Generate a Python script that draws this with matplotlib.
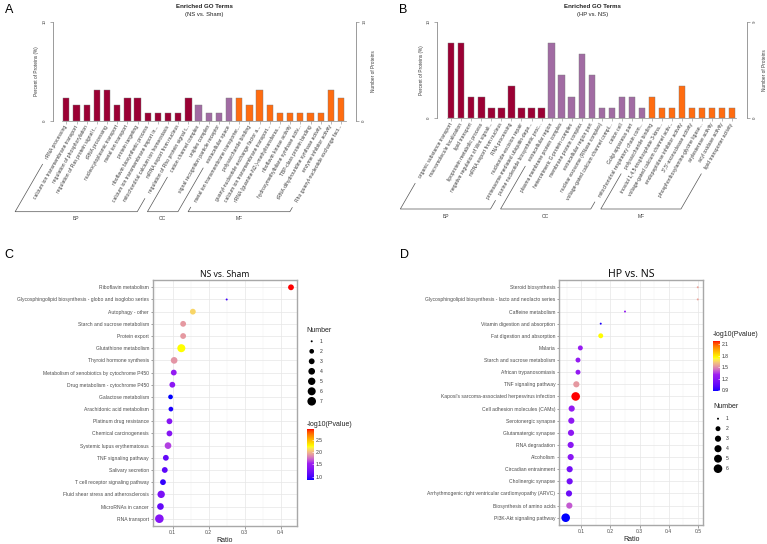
import numpy as np
import matplotlib
matplotlib.use("Agg")
import matplotlib.pyplot as plt
from matplotlib.colors import ListedColormap, Normalize
from matplotlib.cm import ScalarMappable

W, H = 767, 544
plt.rcParams['font.family'] = ['Liberation Sans', 'DejaVu Sans']

# ---------------- Panel A data ----------------
a_bp_terms = ["rRNA processing", "calcium ion transmembrane transport", "regulation of phosphorylation",
              "regulation of Ras protein signal t...", "tRNA processing", "nucleocytoplasmic transport",
              "metal ion transport", "protein targeting", "riboflavin biosynthetic process",
              "calcium ion transmembrane import in...", "mitochondrial calcium ion homeostasis",
              "mRNA export from nucleus", "regulation of Rho protein signal t..."]
a_bp_counts = [3, 2, 2, 4, 4, 2, 3, 3, 1, 1, 1, 1, 3]
a_cc_terms = ["cation channel complex", "uniplex complex", "signal recognition particle receptor",
              "extracellular space"]
a_cc_counts = [2, 1, 1, 3]
a_mf_terms = ["metal ion transmembrane transporter...", "polysaccharide binding",
              "guanyl-nucleotide exchange factor a...", "calcium ion transmembrane transport...",
              "rRNA (guanine-N2-)-methyltransferas...", "riboflavin kinase activity",
              "hydroxymethylbilane synthase activ...", "TBP-class protein binding",
              "tRNA dihydrouridine synthase activity", "enzyme inhibitor activity",
              "Rho guanyl-nucleotide exchange fact..."]
a_mf_counts = [3, 2, 4, 2, 1, 1, 1, 1, 1, 4, 3]
a_total = 130
a_right_max = 13

# ---------------- Panel B data ----------------
b_bp_terms = ["organic substance transport", "macromolecule localization", "lipid transport",
              "lipoprotein metabolic process", "negative regulation of Wnt signali...",
              "mRNA export from nucleus", "RNA processing", "nucleotide-excision repair",
              "proteasome-mediated ubiquitin-depe...", "purine nucleotide biosynthetic proc..."]
b_bp_counts = [7, 7, 2, 2, 1, 1, 3, 1, 1, 1]
b_cc_terms = ["extracellular region", "plasma membrane protein complex", "heterotrimeric G-protein complex",
              "membrane protein complex", "extracellular region part", "nuclear exosome (RNase complex)",
              "voltage-gated calcium channel compl...", "cation cell", "Golgi apparatus part",
              "mitochondrial respiratory chain com..."]
b_cc_counts = [7, 4, 2, 6, 4, 1, 1, 2, 2, 1]
b_mf_terms = ["polysaccharide binding", "inositol 1,4,5-trisphosphate 3-kina...",
              "voltage-gated calcium channel activ...", "endopeptidase inhibitor activity",
              "3',5'-exonuclease activity", "phosphoribosylamine-glycine ligase...",
              "arylesterase activity", "acyl oxidase activity", "lipid transporter activity"]
b_mf_counts = [2, 1, 1, 3, 1, 1, 1, 1, 1]
b_total = 90
b_right_max = 9

group_names = ["BP", "CC", "MF"]
group_colors = ["#9B0034", "#A16BA3", "#FF6C10"]

# ---------------- Panel C data ----------------
c_terms = ["Riboflavin metabolism", "Glycosphingolipid biosynthesis - globo and isoglobo series",
           "Autophagy - other", "Starch and sucrose metabolism", "Protein export",
           "Glutathione metabolism", "Thyroid hormone synthesis",
           "Metabolism of xenobiotics by cytochrome P450", "Drug metabolism - cytochrome P450",
           "Galactose metabolism", "Arachidonic acid metabolism", "Platinum drug resistance",
           "Chemical carcinogenesis", "Systemic lupus erythematosus", "TNF signaling pathway",
           "Salivary secretion", "T cell receptor signaling pathway",
           "Fluid shear stress and atherosclerosis", "MicroRNAs in cancer", "RNA transport"]
c_ratio = [0.4286, 0.25, 0.156, 0.129, 0.129, 0.124, 0.104, 0.103, 0.099, 0.094,
           0.095, 0.091, 0.091, 0.087, 0.081, 0.078, 0.073, 0.068, 0.066, 0.063]
c_number = [3, 1, 3, 3, 3, 6, 4, 3, 3, 2, 2, 3, 3, 4, 3, 3, 3, 5, 4, 7]
c_logp = [2.93, 0.98, 2.1, 1.9, 1.9, 2.24, 1.88, 1.45, 1.4, 0.87,
          0.9, 1.36, 1.36, 1.62, 1.14, 1.1, 0.95, 1.28, 1.14, 1.35]
c_number_levels = [1, 2, 3, 4, 5, 6, 7]
c_cbar_ticks = [1.0, 1.5, 2.0, 2.5]
c_xticks = [0.1, 0.2, 0.3, 0.4]

# ---------------- Panel D data ----------------
d_terms = ["Steroid biosynthesis", "Glycosphingolipid biosynthesis - lacto and neolacto series",
           "Caffeine metabolism", "Vitamin digestion and absorption", "Fat digestion and absorption",
           "Malaria", "Starch and sucrose metabolism", "African trypanosomiasis", "TNF signaling pathway",
           "Kaposi's sarcoma-associated herpesvirus infection", "Cell adhesion molecules (CAMs)",
           "Serotonergic synapse", "Glutamatergic synapse", "RNA degradation", "Alcoholism",
           "Circadian entrainment", "Cholinergic synapse",
           "Arrhythmogenic right ventricular cardiomyopathy (ARVC)", "Biosynthesis of amino acids",
           "PI3K-Akt signaling pathway"]
d_ratio = [0.5, 0.5, 0.25, 0.1667, 0.1667, 0.0967, 0.0886, 0.0886, 0.0829, 0.0806,
           0.0669, 0.0657, 0.0646, 0.0635, 0.0635, 0.060, 0.060, 0.0577, 0.0589, 0.0463]
d_number = [1, 1, 1, 1, 2, 2, 2, 2, 3, 6, 3, 3, 3, 3, 3, 3, 3, 3, 3, 6]
d_logp = [1.55, 1.55, 1.25, 0.9, 1.75, 1.27, 1.25, 1.25, 1.53, 2.18,
          1.25, 1.23, 1.22, 1.2, 1.2, 1.11, 1.11, 1.08, 1.4, 0.88]
d_number_levels = [1, 2, 3, 4, 5, 6]
d_cbar_ticks = [0.9, 1.2, 1.5, 1.8, 2.1]
d_xticks = [0.1, 0.2, 0.3, 0.4, 0.5]


# ---------------- colour map: blue-purple-yellow-red interpolated in Lab ----------------
def _srgb2lin(c):
    return np.where(c <= 0.04045, c / 12.92, ((c + 0.055) / 1.055) ** 2.4)


def _lin2srgb(c):
    c = np.clip(c, 0, 1)
    return np.where(c <= 0.0031308, 12.92 * c, 1.055 * c ** (1 / 2.4) - 0.055)


_M = np.array([[0.4124, 0.3576, 0.1805], [0.2126, 0.7152, 0.0722], [0.0193, 0.1192, 0.9505]])
_WP = np.array([0.95047, 1.0, 1.08883])


def rgb2lab(rgb):
    xyz = _M @ _srgb2lin(np.asarray(rgb, float)) / _WP
    f = np.where(xyz > 0.008856, np.cbrt(xyz), 7.787 * xyz + 16 / 116)
    return np.array([116 * f[1] - 16, 500 * (f[0] - f[1]), 200 * (f[1] - f[2])])


def lab2rgb(lab):
    fy = (lab[0] + 16) / 116
    fx = fy + lab[1] / 500
    fz = fy - lab[2] / 200
    f = np.array([fx, fy, fz])
    xyz = np.where(f ** 3 > 0.008856, f ** 3, (f - 16 / 116) / 7.787) * _WP
    return _lin2srgb(np.linalg.inv(_M) @ xyz)


stops = [(0, 0, 1), (160 / 255, 32 / 255, 240 / 255), (1, 1, 0), (1, 0, 0)]
labs = [rgb2lab(s) for s in stops]
cols = []
for t in np.linspace(0, 1, 256):
    seg = min(int(t * 3), 2)
    u = t * 3 - seg
    cols.append(lab2rgb(labs[seg] * (1 - u) + labs[seg + 1] * u))
cmap = ListedColormap(np.clip(np.array(cols), 0, 1))


def R(x0, y0, x1, y1):
    return [x0 / W, 1 - y1 / H, (x1 - x0) / W, (y1 - y0) / H]


fig = plt.figure(figsize=(W / 100, H / 100), dpi=100)
fig.patch.set_facecolor("white")

GRAY = "#8A8A8A"
TXT = "#3A3A3A"
LAB_FS = 3.6


def bar_panel(rect, groups, total, right_max, xlim):
    ax = fig.add_axes(rect)
    terms, counts, colors, sizes = [], [], [], []
    for (t, c), col in zip(groups, group_colors):
        terms += t
        counts += c
        colors += [col] * len(t)
        sizes.append(len(t))
    x = np.arange(len(terms))
    pct = np.array(counts) / total * 100
    ax.bar(x, pct, width=0.62, color=colors, edgecolor="#7A7A7A", linewidth=0.3, zorder=3)
    ax.set_xlim(*xlim)
    ax.set_ylim(0, 10)
    for s in ["top", "right"]:
        ax.spines[s].set_visible(False)
    ax.spines["left"].set_color(GRAY)
    ax.spines["left"].set_linewidth(0.6)
    ax.spines["bottom"].set_color(GRAY)
    ax.spines["bottom"].set_linewidth(0.5)
    ax.spines["bottom"].set_bounds(-0.45, len(terms) - 0.55)
    ax.set_yticks([0, 10])
    ax.set_yticklabels(["0", "10"], rotation=90, va="center", fontsize=3.2, color=TXT)
    ax.tick_params(axis="y", length=2.5, width=0.5, color=GRAY, pad=2)
    ax.set_xticks(x)
    ax.set_xticklabels(terms, rotation=60, ha="right", va="center", rotation_mode="anchor",
                       fontsize=LAB_FS, color=TXT)
    ax.tick_params(axis="x", length=2, width=0.4, color=GRAY, pad=1.5)
    ax.set_ylabel("Percent of Proteins (%)", fontsize=3.4, color=TXT, labelpad=2.5)
    ax2 = ax.twinx()
    ax2.set_ylim(0, right_max)
    for s in ["top", "left", "bottom"]:
        ax2.spines[s].set_visible(False)
    ax2.spines["right"].set_color(GRAY)
    ax2.spines["right"].set_linewidth(0.6)
    ax2.set_yticks([0, right_max])
    ax2.set_yticklabels(["0", str(right_max)], rotation=90, va="center", fontsize=3.2, color=TXT)
    ax2.tick_params(axis="y", length=2.5, width=0.5, color=GRAY, pad=2)
    ax2.set_ylabel("Number of Proteins", fontsize=3.4, color=TXT, labelpad=3.5)
    return ax, sizes


axA, a_sizes = bar_panel(R(53, 21.7, 356, 120.7),
                         [(a_bp_terms, a_bp_counts), (a_cc_terms, a_cc_counts), (a_mf_terms, a_mf_counts)],
                         a_total, a_right_max, (-1.31, 28.47))
axB, b_sizes = bar_panel(R(437.3, 21.7, 746.7, 118.3),
                         [(b_bp_terms, b_bp_counts), (b_cc_terms, b_cc_counts), (b_mf_terms, b_mf_counts)],
                         b_total, b_right_max, (-1.40, 29.47))


def sizes_px(nums, nmax, dmax=8.6):
    nums = np.asarray(nums, float)
    s = 1 + 5 * np.sqrt((nums - 1) / (nmax - 1))
    d = dmax * (s + 0.5) / 6.5
    return (d * 0.72) ** 2


def bubble(rect, terms, ratio, number, logp, xlim, xticks, nmax):
    ax = fig.add_axes(rect)
    n = len(terms)
    y = np.arange(n)[::-1]
    ax.set_xlim(*xlim)
    ax.set_ylim(-0.6, n - 0.4)
    ax.set_xticks(xticks)
    ax.set_xticks([t + 0.05 for t in xticks[:-1]] + [xticks[0] - 0.05], minor=True)
    ax.set_xticklabels([f"{t:.1f}" for t in xticks], fontsize=LAB_FS, color="#4D4D4D")
    ax.set_yticks(y)
    ax.set_yticklabels(terms, fontsize=LAB_FS, color="#4D4D4D")
    ax.grid(which="major", color="#E6E6E6", lw=0.5)
    ax.grid(which="minor", axis="x", color="#F1F1F1", lw=0.35)
    ax.set_axisbelow(True)
    ax.tick_params(which="major", length=1.8, width=0.4, color="#555555", pad=1)
    ax.tick_params(which="minor", length=0)
    for s in ax.spines.values():
        s.set_color("#A8A8A8")
        s.set_linewidth(1.0)
    norm = Normalize(min(logp), max(logp))
    ax.scatter(ratio, y, s=sizes_px(number, nmax), c=logp, cmap=cmap, norm=norm,
               linewidths=0, zorder=3)
    ax.set_xlabel("Ratio", fontsize=5, color="#222222", labelpad=1.5)
    return ax, norm


axC, normC = bubble(R(153, 280, 297, 526), c_terms, c_ratio, c_number, c_logp,
                    (0.0453, 0.4453), c_xticks, max(c_number_levels))
axC.set_title("NS vs. Sham", fontsize=6.2, color="#111111", pad=2.5, family=["Noto Sans", "DejaVu Sans"])
axD, normD = bubble(R(559.3, 280, 703.3, 525), d_terms, d_ratio, d_number, d_logp,
                    (0.0244, 0.519), d_xticks, max(d_number_levels))
axD.set_title("HP vs. NS", fontsize=7.6, color="#111111", pad=2.5, family=["Noto Sans", "DejaVu Sans"])


def cbar(rect, norm, ticks):
    cax = fig.add_axes(rect)
    cb = fig.colorbar(ScalarMappable(norm=norm, cmap=cmap), cax=cax)
    cb.outline.set_visible(False)
    cb.set_ticks(ticks)
    cb.set_ticklabels([f"{t:.1f}" for t in ticks])
    cax.tick_params(length=1.5, width=0.4, color="white", labelsize=LAB_FS, labelcolor="#333333",
                    pad=1.5, direction="in")
    return cax


cbar(R(306.7, 429.3, 313.5, 480), normC, c_cbar_ticks)
cbar(R(713, 341, 719.8, 391), normD, d_cbar_ticks)

# ---------------- overlay for annotations ----------------
ov = fig.add_axes([0, 0, 1, 1])
ov.set_xlim(0, W)
ov.set_ylim(H, 0)
ov.axis("off")
ov.patch.set_alpha(0)


def size_legend(x0, ytitle, y1, levels, nmax):
    ov.text(x0, ytitle, "Number", fontsize=5, color="#222222", ha="left", va="center")
    ys = y1 + 10 * np.arange(len(levels))
    ov.scatter([x0 + 5] * len(levels), ys, s=sizes_px(levels, nmax), c="black", linewidths=0)
    for lv, yy in zip(levels, ys):
        ov.text(x0 + 13, yy, str(lv), fontsize=LAB_FS, color="#333333", ha="left", va="center")


size_legend(306.7, 330, 341.3, c_number_levels, max(c_number_levels))
size_legend(713, 407, 418.7, d_number_levels, max(d_number_levels))
ov.text(306.7, 424, "-log10(Pvalue)", fontsize=5, color="#222222", ha="left", va="center")
ov.text(713, 335, "-log10(Pvalue)", fontsize=5, color="#222222", ha="left", va="center")

# panel letters
for lt, (x, y) in zip("ABCD", [(5, 10), (399, 10), (4, 255), (400, 255)]):
    ov.text(x, y, lt, fontsize=9, color="black", ha="left", va="center")

# bar titles
for xc, sub in [(204, "(NS vs. Sham)"), (592.7, "(HP vs. NS)")]:
    ov.text(xc, 6.5, "Enriched GO Terms", fontsize=4.4, fontweight="bold", color="#222222", ha="center", va="center")
    ov.text(xc, 14.7, sub, fontsize=4.2, color="#222222", ha="center", va="center")

# brackets under GO labels
fig.canvas.draw()
rend = fig.canvas.get_renderer()


def brackets(ax, sizes, base, theta=60, gap=5):
    bbs = [l.get_window_extent(rend) for l in ax.get_xticklabels()]
    t = np.tan(np.radians(theta))
    c, s = np.cos(np.radians(theta)), np.sin(np.radians(theta))
    start = 0
    for name, n in zip(group_names, sizes):
        i0, i1 = start, start + n - 1
        start += n
        xl = bbs[i0].x0 - gap * c
        yl = H - (bbs[i0].y0 - gap * s)
        xr = bbs[i1].x0 - gap * c
        yr = H - (bbs[i1].y0 - gap * s)
        xlb = xl - (base - yl) / t
        xrb = xr - (base - yr) / t
        ov.plot([xl, xlb, xrb, xr], [yl, base, base, yr], color="#555555", lw=0.5)
        ov.text((xlb + xrb) / 2, base + 7, name, fontsize=LAB_FS, color=TXT, ha="center", va="center")


brackets(axA, a_sizes, 211.7)
brackets(axB, b_sizes, 209)

fig.savefig("out.png", dpi=100)
